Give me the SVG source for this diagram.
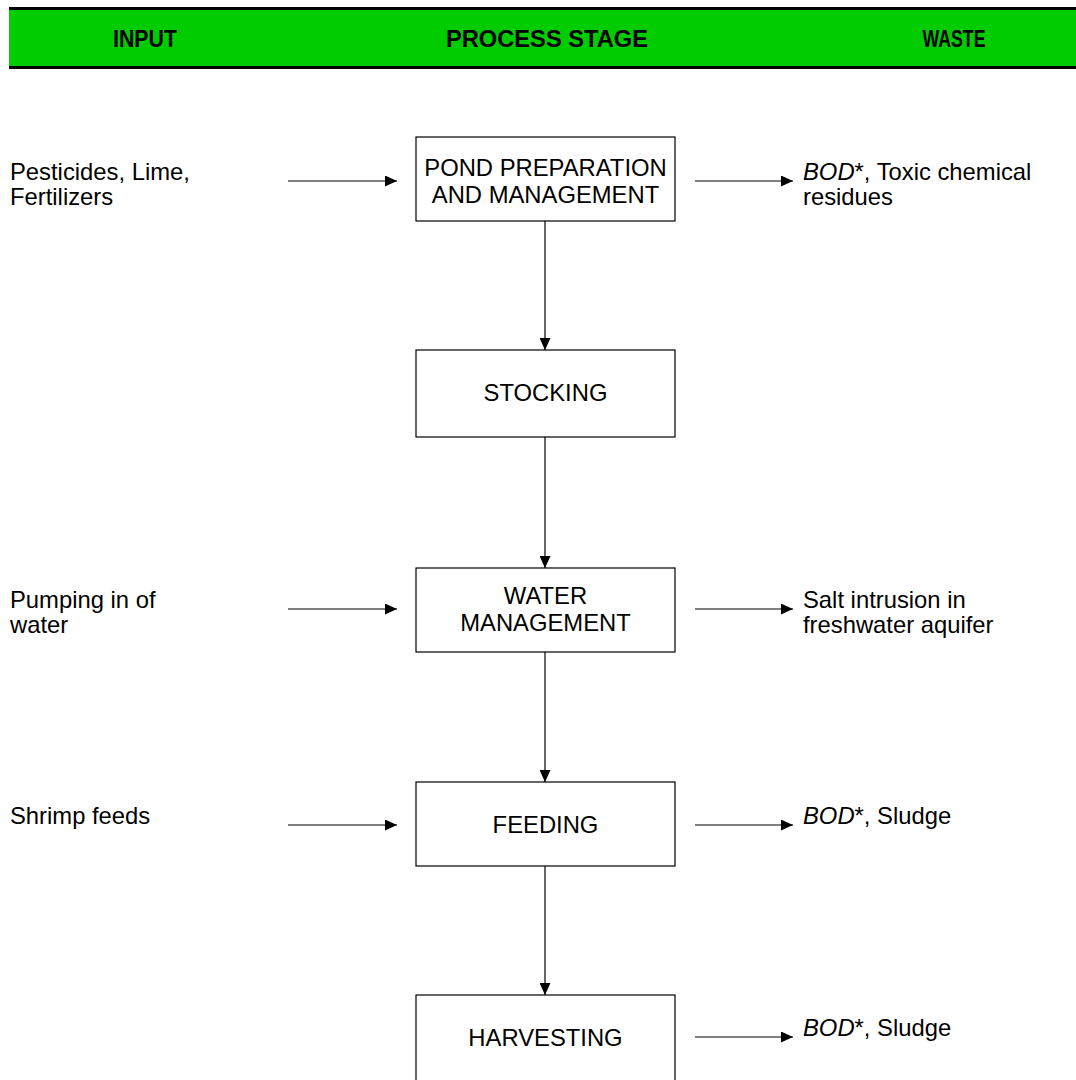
<svg xmlns="http://www.w3.org/2000/svg" width="1076" height="1080" viewBox="0 0 1076 1080">
<defs>
<marker id="ah" markerWidth="12" markerHeight="11" refX="12" refY="5.5" orient="auto" markerUnits="userSpaceOnUse">
<path d="M0,0 L12,5.5 L0,11 Z" fill="#000"/>
</marker>
<style>
.hd{font-family:"Liberation Sans",Arial,sans-serif;font-weight:bold;font-size:24px;fill:#000;text-anchor:middle}
.bx{fill:#fff;stroke:#000;stroke-width:1.2}
.bt{font-family:"Liberation Sans",Arial,sans-serif;font-size:23.8px;fill:#000;text-anchor:middle}
.tx{font-family:"Liberation Sans",Arial,sans-serif;font-size:23.8px;fill:#000}
.cn{stroke:#000;stroke-width:1.2;fill:none;marker-end:url(#ah)}
</style>
</defs>
<rect width="1076" height="1080" fill="#fff"/>
<g id="header">
<rect x="9" y="8" width="1067" height="61" fill="#00CC00"/>
<rect x="9" y="7" width="1067" height="3" fill="#000"/>
<rect x="9" y="66" width="1067" height="3" fill="#000"/>
<text class="hd" x="145" y="47" textLength="64" lengthAdjust="spacingAndGlyphs">INPUT</text>
<text class="hd" x="547" y="47" textLength="202" lengthAdjust="spacingAndGlyphs">PROCESS STAGE</text>
<text class="hd" x="954" y="47" textLength="63" lengthAdjust="spacingAndGlyphs">WASTE</text>
</g>
<g id="connectors">
<line class="cn" x1="545" y1="221" x2="545" y2="350"/>
<line class="cn" x1="545" y1="437" x2="545" y2="568"/>
<line class="cn" x1="545" y1="652" x2="545" y2="782"/>
<line class="cn" x1="545" y1="866" x2="545" y2="995"/>
<line class="cn" x1="288" y1="181" x2="397" y2="181"/>
<line class="cn" x1="695" y1="181" x2="793" y2="181"/>
<line class="cn" x1="288" y1="609" x2="397" y2="609"/>
<line class="cn" x1="695" y1="609" x2="793" y2="609"/>
<line class="cn" x1="288" y1="825" x2="397" y2="825"/>
<line class="cn" x1="695" y1="825" x2="793" y2="825"/>
<line class="cn" x1="695" y1="1037" x2="793" y2="1037"/>
</g>
<g id="pond">
<rect class="bx" x="416" y="137" width="259" height="84"/>
<text class="bt" x="545.5" y="176">POND PREPARATION</text>
<text class="bt" x="545.5" y="203">AND MANAGEMENT</text>
</g>
<g id="stocking">
<rect class="bx" x="416" y="350" width="259" height="87"/>
<text class="bt" x="545.5" y="401">STOCKING</text>
</g>
<g id="water">
<rect class="bx" x="416" y="568" width="259" height="84"/>
<text class="bt" x="545.5" y="604">WATER</text>
<text class="bt" x="545.5" y="631">MANAGEMENT</text>
</g>
<g id="feeding">
<rect class="bx" x="416" y="782" width="259" height="84"/>
<text class="bt" x="545.5" y="833">FEEDING</text>
</g>
<g id="harvesting">
<rect class="bx" x="416" y="995" width="259" height="100"/>
<text class="bt" x="545.5" y="1046">HARVESTING</text>
</g>
<g id="inputs">
<text class="tx" x="10" y="180">Pesticides, Lime,</text>
<text class="tx" x="10" y="205">Fertilizers</text>
<text class="tx" x="10" y="608">Pumping in of</text>
<text class="tx" x="10" y="633">water</text>
<text class="tx" x="10" y="824">Shrimp feeds</text>
</g>
<g id="wastes">
<text class="tx" x="803" y="180"><tspan font-style="italic">BOD</tspan>*, Toxic chemical</text>
<text class="tx" x="803" y="205">residues</text>
<text class="tx" x="803" y="608">Salt intrusion in</text>
<text class="tx" x="803" y="633">freshwater aquifer</text>
<text class="tx" x="803" y="824"><tspan font-style="italic">BOD</tspan>*, Sludge</text>
<text class="tx" x="803" y="1036"><tspan font-style="italic">BOD</tspan>*, Sludge</text>
</g>
</svg>
